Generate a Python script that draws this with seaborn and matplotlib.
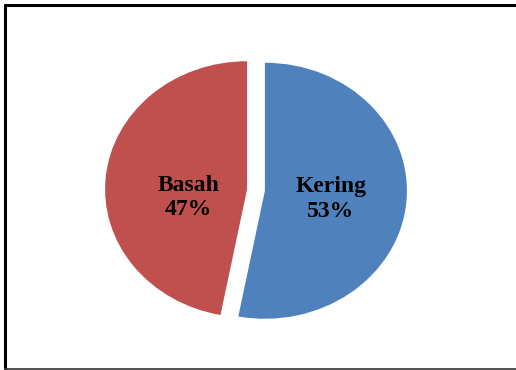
import numpy as np
import matplotlib
matplotlib.use("Agg")
import matplotlib.pyplot as plt
import seaborn as sns
from matplotlib.lines import Line2D

sns.set_theme(style="white")
plt.rcParams['font.family'] = ['Liberation Serif', 'DejaVu Serif']

categories = ["Kering", "Basah"]
values = [53, 47]
colors = ["#4F81BD", "#C0504D"]
explode = [0.063, 0.063]

W, H = 516, 370
fig = plt.figure(figsize=(W / 100, H / 100), dpi=100)
ax = fig.add_axes([0, 0, 1, 1])

wedges, _ = ax.pie(values, colors=colors, explode=explode, startangle=90,
                   counterclock=False, radius=1.0,
                   wedgeprops=dict(linewidth=0))
ax.set_aspect('auto')
# pixel geometry: centre (256,190), rx=142px, ry=128px
cx, cy, rx, ry = 256, 190, 142, 128
ax.set_xlim(-cx / rx, (W - cx) / rx)
ax.set_ylim((cy - H) / ry, cy / ry)
ax.axis('off')

for w, cat, v in zip(wedges, categories, values):
    mid = np.deg2rad((w.theta1 + w.theta2) / 2)
    x = w.center[0] + 0.44 * np.cos(mid) + 0.025
    y = w.center[1] - 0.065
    ax.text(x, y, f"{cat}\n{v}%", ha='center', va='center',
            fontsize=17, fontweight='bold', color='black', linespacing=1.2)

# frame lines
fig.add_artist(Line2D([4.5 / W, 4.5 / W], [1 - 4 / H, 1 - 369 / H], transform=fig.transFigure,
                      color='black', lw=2.2, solid_capstyle='butt'))
fig.add_artist(Line2D([3.5 / W, 1], [1 - 5 / H, 1 - 5 / H], transform=fig.transFigure,
                      color='black', lw=2.2, solid_capstyle='butt'))
fig.add_artist(Line2D([3.5 / W, 1], [1 - 368.5 / H, 1 - 368.5 / H], transform=fig.transFigure,
                      color='#333333', lw=1.2, solid_capstyle='butt'))

fig.savefig("out.png", dpi=100)
